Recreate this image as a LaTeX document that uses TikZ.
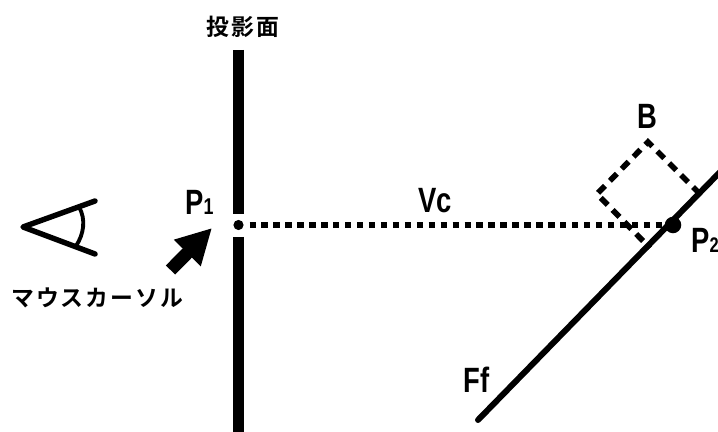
\documentclass[tikz,border=0pt]{standalone}
\usepackage{fontspec}
\setmainfont{Liberation Sans}
\newfontfamily\cjk{Noto Sans CJK JP Bold}[LetterSpace=8.7]
\usetikzlibrary{arrows.meta}
\tikzset{
    plane line/.style={
        line width=6.2pt,
        black
    },
    view line/.style={
        line width=3.2pt,
        black,
        dash pattern=on 3.6pt off 3.2pt
    },
    box line/.style={
        line width=3.2pt,
        black,
        dash pattern=on 5.6pt off 4pt
    },
    eye line/.style={
        line width=3.1pt,
        black,
        line cap=round
    },
    face line/.style={
        line width=3.4pt,
        black,
        line cap=round
    },
    cursor arrow/.style={
        line width=7.4pt,
        black,
        -{Triangle[length=20pt,width=20pt]}
    },
    point dot/.style={
        circle,
        fill=black,
        inner sep=0pt
    },
    letter label/.style={
        inner sep=0pt,
        xscale=.78,
        font=\bfseries\fontsize{20}{20}\selectfont
    },
    kana label/.style={
        inner sep=0pt,
        font=\cjk\fontsize{13}{14}\selectfont
    }
}
\begin{document}
\begin{tikzpicture}[x=.02cm,y=-.02cm]
    \useasboundingbox (0,0) rectangle (718,432);
    \coordinate (planetop) at (238.5,50);
    \coordinate (planeup) at (238.5,214);
    \coordinate (planedown) at (238.5,237);
    \coordinate (planebottom) at (238.5,432);
    \draw [plane line] (planetop) -- (planeup);
    \draw [plane line] (planedown) -- (planebottom);
    \node [point dot, minimum size=5.8pt] (pone) at (238.5,225) {};
    \node [point dot, minimum size=9.4pt] (ptwo) at (673,225) {};
    \draw [view line] (pone) ++(11,0) coordinate (viewstart) (viewstart) -- (ptwo);
    \coordinate (fftail) at (478,420);
    \coordinate (ffhead) at (722,170);
    \draw [face line] (fftail) -- (ffhead);
    \coordinate (boxtop) at (648,142);
    \coordinate (boxleft) at (597,194);
    \coordinate (boxright) at (700,194);
    \coordinate (boxfoot) at (650,248);
    \draw [box line] (boxright) -- (boxtop) -- (boxleft) -- (boxfoot);
    \coordinate (eyetip) at (23,227);
    \coordinate (eyeup) at (95,201);
    \coordinate (eyelow) at (95,254);
    \draw [eye line, line join=round] (eyeup) -- (eyetip) -- (eyelow);
    \draw [line width=2.2pt] (79,207) .. controls (86,219) and (84,234) .. (76,246);
    \coordinate (cursortail) at (170.5,270);
    \coordinate (cursortip) at (212,228);
    \draw [cursor arrow] (cursortail) -- (cursortip);
    \node [kana label] (planelabel) at (243,27) {投影面};
    \node [kana label, anchor=west] (cursorlabel) at (11,298) {マウスカーソル};
    \node [letter label, anchor=base west] (ponelabel) at (185,215) {P{\fontsize{13}{13}\selectfont 1}};
    \node [letter label, anchor=base west] (vclabel) at (418,213) {Vc};
    \node [letter label, anchor=base west] (blabel) at (637,129) {B};
    \node [letter label, anchor=base west] (ptwolabel) at (691,253) {P{\fontsize{12}{12}\selectfont 2}};
    \node [letter label, anchor=base west] (fflabel) at (463,393) {Ff};
\end{tikzpicture}
\end{document}
